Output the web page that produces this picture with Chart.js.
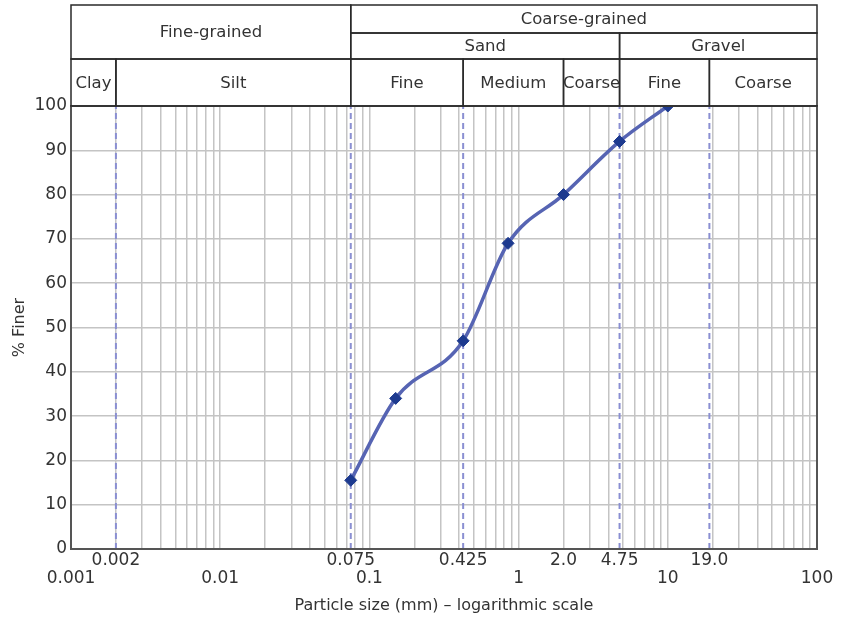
<!DOCTYPE html>
<html>
<head>
<meta charset="utf-8">
<script src="https://cdn.jsdelivr.net/npm/chart.js@4.4.1/dist/chart.umd.min.js"></script>
<style>
  html, body { margin: 0; padding: 0; background: #fff; }
  #wrap { width: 842px; height: 619px; }
</style>
</head>
<body>
<div id="wrap"><canvas id="gradChart" width="842" height="619"></canvas></div>
<script>
// sieve analysis: particle size (mm) vs % finer
const sizes = [0.075, 0.15, 0.425, 0.85, 2.0, 4.75, 10];
const finer = [15.5, 34, 47, 69, 80, 92, 100];

// class boundaries (dashed lines) and their labels
const bounds = [0.002, 0.075, 0.425, 4.75, 19.0];
const boundTicks = [0.002, 0.075, 0.425, 2, 4.75, 19];
const boundTickLabels = ['0.002', '0.075', '0.425', '2.0', '4.75', '19.0'];
const decades = [0.001, 0.01, 0.1, 1, 10, 100];
const decadeLabels = ['0.001', '0.01', '0.1', '1', '10', '100'];

// header table cells: text, from/to size, first/last row
const headCells = [
  { text: 'Fine-grained', from: 0.001, to: 0.075, r0: 0, r1: 2 },
  { text: 'Coarse-grained', from: 0.075, to: 100, r0: 0, r1: 1 },
  { text: 'Sand', from: 0.075, to: 4.75, r0: 1, r1: 2 },
  { text: 'Gravel', from: 4.75, to: 100, r0: 1, r1: 2 },
  { text: 'Clay', from: 0.001, to: 0.002, r0: 2, r1: 3 },
  { text: 'Silt', from: 0.002, to: 0.075, r0: 2, r1: 3 },
  { text: 'Fine', from: 0.075, to: 0.425, r0: 2, r1: 3 },
  { text: 'Medium', from: 0.425, to: 2.0, r0: 2, r1: 3 },
  { text: 'Coarse', from: 2.0, to: 4.75, r0: 2, r1: 3 },
  { text: 'Fine', from: 4.75, to: 19.0, r0: 2, r1: 3 },
  { text: 'Coarse', from: 19.0, to: 100, r0: 2, r1: 3 }
];

const FONT = "'DejaVu Sans', sans-serif";
const TEXT = '#333';

// grid values 1..9 per decade
const gridVals = [];
decades.slice(0, -1).forEach(d => {
  for (let k = 1; k <= 9; k++) gridVals.push(Number((d * k).toPrecision(6)));
});
gridVals.push(100);
const allTicks = Array.from(new Set(gridVals.concat(bounds))).sort((a, b) => a - b);

const boundSets = bounds.map(b => ({
  data: [{ x: b, y: 0 }, { x: b, y: 100 }],
  borderColor: '#8a8fd2',
  borderWidth: 2,
  borderDash: [6, 4],
  pointRadius: 0,
  order: 2
}));

const headerPlugin = {
  id: 'header',
  afterDraw(chart) {
    const ctx = chart.ctx;
    const area = chart.chartArea;
    const xs = chart.scales.x;
    const rows = [5, 33, 59, area.top];
    ctx.save();
    // plot frame
    ctx.strokeStyle = '#555';
    ctx.lineWidth = 2;
    ctx.strokeRect(area.left, area.top, area.right - area.left, area.bottom - area.top);
    // table
    ctx.strokeStyle = '#2a2a2a';
    ctx.lineWidth = 1.5;
    ctx.font = '16.5px ' + FONT;
    ctx.fillStyle = TEXT;
    ctx.textAlign = 'center';
    ctx.textBaseline = 'middle';
    headCells.forEach(c => {
      const x0 = xs.getPixelForValue(c.from);
      const x1 = xs.getPixelForValue(c.to);
      const y0 = rows[c.r0];
      const y1 = rows[c.r1];
      ctx.strokeRect(x0, y0, x1 - x0, y1 - y0);
      ctx.fillText(c.text, (x0 + x1) / 2, (y0 + y1) / 2 + 1);
    });
    ctx.restore();
  }
};

new Chart(document.getElementById('gradChart'), {
  type: 'line',
  data: {
    datasets: [{
      data: sizes.map((s, i) => ({ x: s, y: finer[i] })),
      borderColor: '#5664b3',
      borderWidth: 3.5,
      cubicInterpolationMode: 'monotone',
      pointStyle: 'rectRot',
      pointRadius: 6,
      pointBackgroundColor: '#1d3a8f',
      pointBorderColor: '#1d3a8f',
      pointBorderWidth: 1,
      order: 1
    }].concat(boundSets)
  },
  options: {
    responsive: false,
    animation: false,
    devicePixelRatio: 1,
    layout: { padding: { top: 106, right: 25, left: 0, bottom: 0 } },
    plugins: { legend: { display: false }, tooltip: { enabled: false } },
    scales: {
      x: {
        type: 'logarithmic',
        min: 0.001,
        max: 100,
        afterBuildTicks: scale => { scale.ticks = allTicks.map(v => ({ value: v })); },
        afterFit: scale => { scale.height = 70; },
        ticks: {
          autoSkip: false,
          maxRotation: 0,
          padding: 3,
          color: TEXT,
          font: { family: FONT, size: 17, lineHeight: 1.06 },
          callback: function (value) {
            const b = boundTicks.indexOf(value);
            if (b >= 0) return boundTickLabels[b];
            const d = decades.indexOf(value);
            if (d >= 0) return ['', decadeLabels[d]];
            return '';
          }
        },
        grid: {
          drawTicks: false,
          lineWidth: 1.5,
          color: c => (c.tick && gridVals.indexOf(c.tick.value) < 0) ? 'rgba(0,0,0,0)' : '#c4c4c4'
        },
        border: { display: false },
        title: {
          display: true,
          text: 'Particle size (mm) \u2013 logarithmic scale',
          color: TEXT,
          font: { family: FONT, size: 16 },
          padding: { top: 4, bottom: 4 }
        }
      },
      y: {
        min: 0,
        max: 100,
        afterFit: scale => { scale.width = 71; },
        ticks: {
          stepSize: 10,
          padding: 4,
          color: TEXT,
          font: { family: FONT, size: 17 }
        },
        grid: { drawTicks: false, lineWidth: 1.5, color: '#c4c4c4' },
        border: { display: false },
        title: {
          display: true,
          text: '% Finer',
          color: TEXT,
          font: { family: FONT, size: 16 },
          padding: { top: 10, bottom: 4 }
        }
      }
    }
  },
  plugins: [headerPlugin]
});
</script>
</body>
</html>
